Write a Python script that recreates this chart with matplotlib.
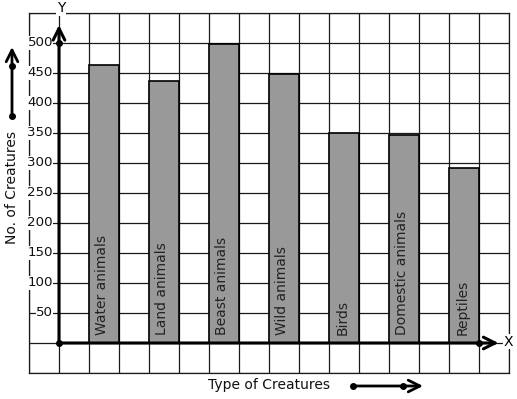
import matplotlib
matplotlib.use("Agg")
import matplotlib.pyplot as plt

categories = ["Water animals", "Land animals", "Beast animals", "Wild animals",
              "Birds", "Domestic animals", "Reptiles"]
values = [463, 436, 498, 448, 350, 346, 291]
ytick_values = [50, 100, 150, 200, 250, 300, 350, 400, 450, 500]
ytick_labels = ["50", "100", "150", "200", "250", "300", "350", "400", "450", "500"]

W, H = 517, 399
fig = plt.figure(figsize=(W / 100, H / 100), dpi=100)
# grid area: x 29..509 px, y 13..373 px (from top)
ax = fig.add_axes([29 / W, (H - 373) / H, 480 / W, 360 / H])
ax.set_xlim(-1, 15)
ax.set_ylim(-50, 550)
ax.set_xticks(range(-1, 16))
ax.set_yticks(range(-50, 551, 50))
ax.tick_params(length=0, labelbottom=False, labelleft=False)
ax.grid(True, color="#1a1a1a", lw=0.9, zorder=0)
ax.set_axisbelow(True)
for s in ax.spines.values():
    s.set_linewidth(0.9)
    s.set_color("#1a1a1a")

xpos = [1.5 + 2 * i for i in range(len(categories))]
ax.bar(xpos, values, width=1.0, color="#999999", edgecolor="black", lw=1.2, zorder=2)

for x, name in zip(xpos, categories):
    ax.text(x - 0.05, 14, name, rotation=90, ha="center", va="bottom",
            fontsize=10, color="#222222", zorder=4)

for v, lab in zip(ytick_values, ytick_labels):
    ax.text(-0.2, v, lab, ha="right", va="center", fontsize=9.6, color="#111111",
            bbox=dict(facecolor="white", edgecolor="none", pad=0.3), zorder=3)

# axes with arrows
arrow_kw = dict(arrowstyle="->", lw=2.2, color="black", mutation_scale=21,
                shrinkA=0, shrinkB=0)
ax.annotate("", xy=(0, 530), xytext=(0, 0), arrowprops=arrow_kw, zorder=5)
ax.annotate("", xy=(14.65, 0), xytext=(0, 0), arrowprops=arrow_kw, zorder=5)
ax.plot([0, 0, 14], [0, 500, 0], "o", color="black", ms=4, ls="none", zorder=6,
        clip_on=False)
ax.text(0.07, 558, "Y", ha="center", va="center", fontsize=10,
        bbox=dict(facecolor="white", edgecolor="none", pad=0.5), zorder=6, clip_on=False)
ax.text(14.97, 2, "X", ha="center", va="center", fontsize=10,
        bbox=dict(facecolor="white", edgecolor="none", pad=0.5), zorder=6, clip_on=False)

# axis titles
fig.text(12 / W, 1 - 188 / H, "No. of Creatures", rotation=90, ha="center", va="center",
         fontsize=10, color="#111111")
fig.text(269 / W, 1 - 385 / H, "Type of Creatures", ha="center", va="center",
         fontsize=10, color="#111111")

# decorative arrows
fig_ax = fig.add_axes([0, 0, 1, 1], facecolor="none")
fig_ax.set_xlim(0, W)
fig_ax.set_ylim(H, 0)
fig_ax.axis("off")
deco_kw = dict(arrowstyle="->", lw=2, color="black", mutation_scale=21,
               shrinkA=0, shrinkB=0)
fig_ax.annotate("", xy=(12, 47), xytext=(12, 116), arrowprops=deco_kw)
fig_ax.plot([12, 12], [66, 116], "o", color="black", ms=4, ls="none")
fig_ax.annotate("", xy=(423, 386), xytext=(353, 386), arrowprops=deco_kw)
fig_ax.plot([353, 403], [386, 386], "o", color="black", ms=4, ls="none")

fig.savefig("out.png", dpi=100, facecolor="white")
